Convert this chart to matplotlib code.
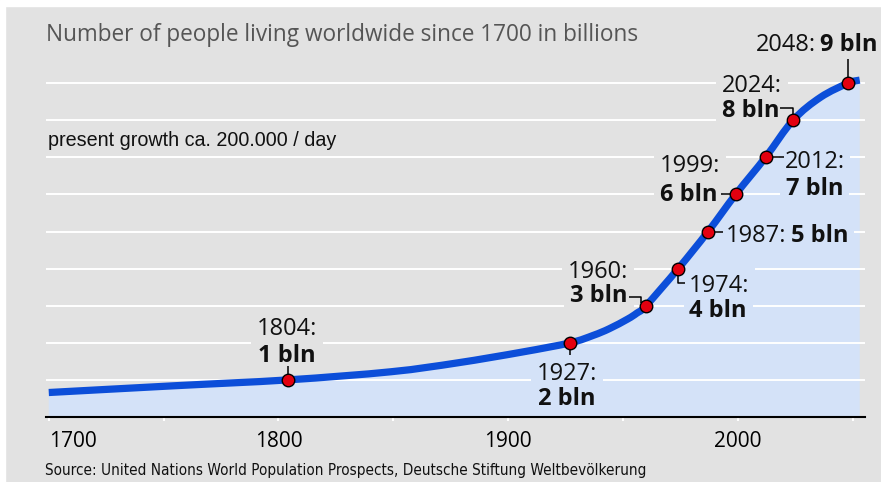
import matplotlib.pyplot as plt
from matplotlib.patches import Rectangle, PathPatch
from matplotlib.path import Path
from matplotlib.ticker import FixedLocator

# population curve (year, billions)
curve_years = [1700, 1754, 1804, 1849, 1878, 1906, 1927, 1937, 1944, 1952, 1956,
               1960, 1974, 1987, 1999, 2012, 2024, 2036, 2048, 2053]
curve_vals = [0.66, 0.84, 1.0, 1.22, 1.46, 1.75, 2.0, 2.20, 2.38, 2.64, 2.80,
              3.0, 4.0, 5.0, 6.0, 7.0, 8.0, 8.62, 9.0, 9.08]

# milestones
mile_years = [1804, 1927, 1960, 1974, 1987, 1999, 2012, 2024, 2048]
mile_vals = [1, 2, 3, 4, 5, 6, 7, 8, 9]
mile_year_txt = ['1804:', '1927:', '1960:', '1974:', '1987:', '1999:', '2012:', '2024:', '2048:']
mile_val_txt = ['1 bln', '2 bln', '3 bln', '4 bln', '5 bln', '6 bln', '7 bln', '8 bln', '9 bln']

tick_years = [1700, 1800, 1900, 2000]
minor_years = [1750, 1850, 1950, 2050]
grid_vals = [1, 2, 3, 4, 5, 6, 7, 8, 9]

title = 'Number of people living worldwide since 1700 in billions'
note = 'present growth ca. 200.000 / day'
source = 'Source: United Nations World Population Prospects, Deutsche Stiftung Weltbevölkerung'

BG = '#e2e2e2'
FILL = '#d4e2f8'
BLUE = '#0c4ed9'
RED = '#e3000f'
FONT = ['Open Sans', 'DejaVu Sans']

# label layout: (mode, year-line offset, value-line offset, ha, leader path, box colour), px offsets (dy down)
layout = [
    ('two', (-1, -45), (-1, -18), 'center', [(0, -14), (0, 0)], BG),
    ('two', (-3, 37), (-4, 62), 'center', [(0, 0), (0, 12)], FILL),
    ('two', (-48, -28), (-47, -4), 'center', [(-17, -9), (-5, -9), (-5, -3)], BG),
    ('two', (41, 23), (40, 48), 'center', [(0, 0), (0, 14), (7, 14)], FILL),
    ('one', (18, 10), None, 'left', [(0, 0), (15, 0)], FILL),
    ('two', (-46, -22), (-47, 7), 'center', [(-15, 0), (0, 0)], BG),
    ('two', (49, 11), (49, 38), 'center', [(0, 0), (18, 0)], FILL),
    ('two', (-41, -28), (-42, -3), 'center', [(-13, -12), (0, -12), (0, 0)], BG),
    ('one', (-92, -32), None, 'left', [(0, -24), (0, 0)], BG),
]


def smooth_path(xs, ys):
    # Catmull-Rom through the points, written as cubic Bezier segments
    pts = list(zip(xs, ys))
    verts, codes = [pts[0]], [Path.MOVETO]
    n = len(pts)
    for i in range(n - 1):
        p0 = pts[max(i - 1, 0)]
        p1, p2 = pts[i], pts[i + 1]
        p3 = pts[min(i + 2, n - 1)]
        c1 = (p1[0] + (p2[0] - p0[0]) / 6, p1[1] + (p2[1] - p0[1]) / 6)
        c2 = (p2[0] - (p3[0] - p1[0]) / 6, p2[1] - (p3[1] - p1[1]) / 6)
        verts += [c1, c2, p2]
        codes += [Path.CURVE4] * 3
    return verts, codes


fig = plt.figure(figsize=(8.81, 4.82), dpi=100, facecolor=BG)
ax = fig.add_axes([46 / 881, 65 / 482, 819 / 881, 371 / 482])
ax.set_facecolor(BG)
ax.set_xlim(1698.8, 2055.3)
ax.set_ylim(0, 10)

# white frame strips on left / top
fig.patches.append(Rectangle((0, 0), 5 / 881, 1, transform=fig.transFigure, color='white', zorder=0))
fig.patches.append(Rectangle((0, 1 - 6 / 482), 1, 6 / 482, transform=fig.transFigure, color='white', zorder=0))

verts, codes = smooth_path(curve_years, curve_vals)
fill_verts = verts + [(curve_years[-1], 0), (curve_years[0], 0), verts[0]]
fill_codes = codes + [Path.LINETO, Path.LINETO, Path.CLOSEPOLY]
ax.add_patch(PathPatch(Path(fill_verts, fill_codes), fc=FILL, ec='none', zorder=1))
for g in grid_vals:
    ax.axhline(g, color='white', lw=1.4, zorder=1.5)
ax.add_patch(PathPatch(Path(verts, codes), fc='none', ec=BLUE, lw=5.2,
                       capstyle='butt', joinstyle='round', zorder=3))
ax.plot(mile_years, mile_vals, 'o', ms=9, mfc=RED, mec='black', mew=1.0, zorder=5)

for s in ['left', 'right', 'top']:
    ax.spines[s].set_visible(False)
ax.spines['bottom'].set_color('black')
ax.spines['bottom'].set_linewidth(1.5)
ax.spines['bottom'].set_zorder(4)
ax.set_yticks([])
ax.set_xticks(tick_years)
ax.xaxis.set_minor_locator(FixedLocator(minor_years))
ax.tick_params(axis='x', which='both', length=3, width=1.5, color='white', pad=7,
               labelsize=15, labelcolor='black')
for lab in ax.get_xticklabels():
    lab.set_fontfamily(FONT)
ax.get_xticklabels()[0].set_ha('left')


def to_data(year, val, dx, dy):
    x, y = ax.transData.transform((year, val))
    return ax.transData.inverted().transform((x + dx, y - dy))


fig.canvas.draw()
renderer = fig.canvas.get_renderer()

for i, (mode, o1, o2, ha, path, bg) in enumerate(layout):
    yr, v = mile_years[i], mile_vals[i]
    box = dict(boxstyle='square,pad=0.25', fc=bg, ec='none')
    pts = [to_data(yr, v, dx, dy) for dx, dy in path]
    ax.plot([p[0] for p in pts], [p[1] for p in pts], color='black', lw=1.1,
            zorder=4, solid_capstyle='butt')
    x1, y1 = to_data(yr, v, *o1)
    t1 = ax.text(x1, y1, mile_year_txt[i], ha=ha, va='baseline', fontsize=17,
                 family=FONT, color='#111111', bbox=box, zorder=2.5)
    if mode == 'two':
        x2, y2 = to_data(yr, v, *o2)
        ax.text(x2, y2, mile_val_txt[i], ha=ha, va='baseline', fontsize=17,
                family=FONT, fontweight='bold', color='#111111', bbox=box, zorder=2.5)
    else:
        ext = t1.get_window_extent(renderer)
        x2, y2 = ax.transData.inverted().transform((ext.x1 + 4, ext.y0))
        ax.text(x2, y1, mile_val_txt[i], ha='left', va='baseline', fontsize=17,
                family=FONT, fontweight='bold', color='#111111', bbox=box, zorder=2.5)

fig.text(46 / 881, 1 - 41 / 482, title, ha='left', va='baseline', fontsize=16.3,
         family=FONT, color='#555555')
fig.text(48 / 881, 1 - 146.5 / 482, note, ha='left', va='baseline', fontsize=14.2,
         family=['Liberation Sans', 'DejaVu Sans'], color='#111111')
fig.text(45 / 881, 1 - 475 / 482, source, ha='left', va='baseline', fontsize=11,
         family='DejaVu Sans', fontstretch='condensed', color='#111111')

fig.savefig('out.png', dpi=100, facecolor=BG)
